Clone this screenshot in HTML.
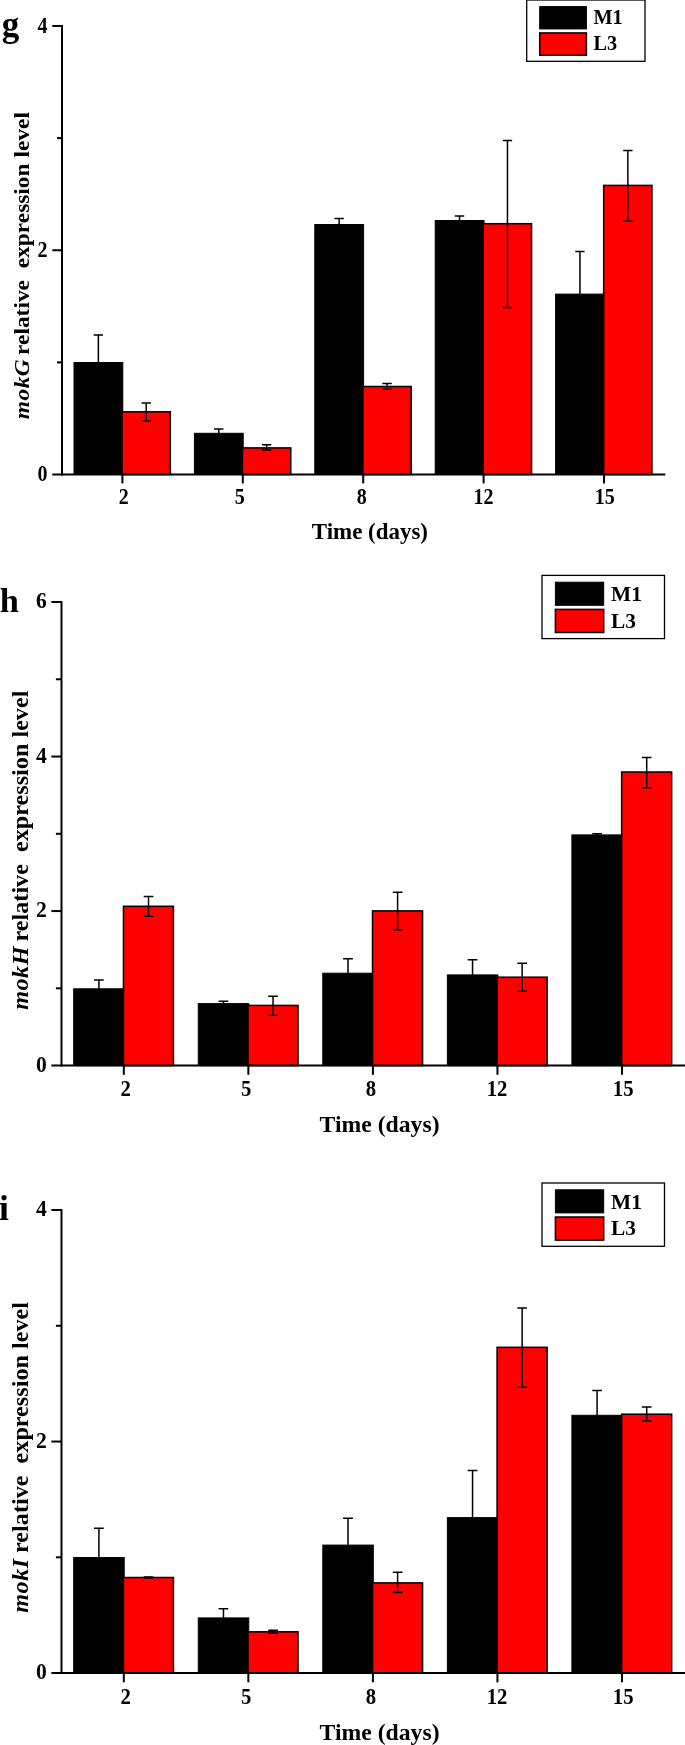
<!DOCTYPE html>
<html><head><meta charset="utf-8"><title>mok gene relative expression levels</title>
<style>
html,body{margin:0;padding:0;background:#fff;}
body{width:685px;height:1745px;overflow:hidden;}
svg{display:block;will-change:transform;}
svg text{font-family:"Liberation Serif",serif;font-weight:bold;fill:#000;}
.ax{stroke:#000;stroke-width:2;fill:none;shape-rendering:auto;}
.eb{stroke:#000;stroke-width:1.5;fill:none;}
.bk{fill:#000;stroke:#000;stroke-width:1;}
.rd{fill:#ff0000;stroke:#000;stroke-width:1.5;}
</style></head>
<body>
<svg width="685" height="1745" viewBox="0 0 685 1745">
<rect x="0" y="0" width="685" height="1745" fill="#ffffff"/>
<!-- chart g -->
<g id="chart-g">
<rect class="bk" x="74" y="362.5" width="48.8" height="112"/>
<rect class="rd" x="122.05" y="411.8" width="48.3" height="62.7"/>
<path class="eb" d="M98.35 363 V335.1 M93.66 335.1 H103.04"/>
<path class="eb" d="M146.25 403 V420.9 M141.56 403 H150.94 M141.56 420.9 H150.94"/>
<rect class="bk" x="194.4" y="433.3" width="48.8" height="41.2"/>
<rect class="rd" x="242.45" y="447.9" width="48.3" height="26.6"/>
<path class="eb" d="M218.75 433.8 V429 M214.06 429 H223.44"/>
<path class="eb" d="M266.65 444.7 V450 M261.96 444.7 H271.34 M261.96 450 H271.34"/>
<rect class="bk" x="314.8" y="224.5" width="48.8" height="250"/>
<rect class="rd" x="362.85" y="386.5" width="48.3" height="88"/>
<path class="eb" d="M339.15 225 V218.4 M334.46 218.4 H343.84"/>
<path class="eb" d="M387.05 383.6 V389.3 M382.36 383.6 H391.74 M382.36 389.3 H391.74"/>
<rect class="bk" x="435.2" y="220.5" width="48.8" height="254"/>
<rect class="rd" x="483.25" y="223.7" width="48.3" height="250.8"/>
<path class="eb" d="M459.55 221 V216.1 M454.86 216.1 H464.24"/>
<path class="eb" d="M507.45 140.6 V307.6 M502.76 140.6 H512.14 M502.76 307.6 H512.14"/>
<rect class="bk" x="555.6" y="294.1" width="48.8" height="180.4"/>
<rect class="rd" x="603.65" y="185.4" width="48.3" height="289.1"/>
<path class="eb" d="M579.95 294.6 V251.4 M575.26 251.4 H584.64"/>
<path class="eb" d="M627.85 150.5 V221 M623.16 150.5 H632.54 M623.16 221 H632.54"/>
<path class="ax" d="M62 25 V475.5"/>
<path class="ax" d="M52.3 474.5 H665.3"/>
<text transform="translate(47.4 481.1) scale(0.9 1)" font-size="22.26" text-anchor="end">0</text>
<path class="ax" d="M57 362.38 H62"/>
<path class="ax" d="M52.3 250.25 H62"/>
<text transform="translate(47.4 256.85) scale(0.9 1)" font-size="22.26" text-anchor="end">2</text>
<path class="ax" d="M57 138.12 H62"/>
<path class="ax" d="M52.3 26 H62"/>
<text transform="translate(47.4 32.6) scale(0.9 1)" font-size="22.26" text-anchor="end">4</text>
<path class="ax" d="M122.4 474.5 V483.41"/>
<text transform="translate(123.8 504.33) scale(0.9 1)" font-size="22.26" text-anchor="middle">2</text>
<path class="ax" d="M242.8 474.5 V483.41"/>
<text transform="translate(239.8 504.33) scale(0.9 1)" font-size="22.26" text-anchor="middle">5</text>
<path class="ax" d="M363.2 474.5 V483.41"/>
<text transform="translate(361.8 504.33) scale(0.9 1)" font-size="22.26" text-anchor="middle">8</text>
<path class="ax" d="M483.6 474.5 V483.41"/>
<text transform="translate(483.4 504.33) scale(0.9 1)" font-size="22.26" text-anchor="middle">12</text>
<path class="ax" d="M604 474.5 V483.41"/>
<text transform="translate(604.7 504.33) scale(0.9 1)" font-size="22.26" text-anchor="middle">15</text>
<text x="369.9" y="539.07" font-size="22.94" text-anchor="middle">Time (days)</text>
<text transform="translate(29.2 419.3) rotate(-90) scale(1.034 0.97)" font-size="22.65" xml:space="preserve"><tspan font-style="italic" letter-spacing="0.5">mok</tspan><tspan font-style="italic">G</tspan><tspan dx="-1.5"> relative  expression level</tspan></text>
<text x="1.7" y="35.9" font-size="35">g</text>
<rect x="526.7" y="0" width="118.3" height="61.3" fill="#fff" stroke="#000" stroke-width="1.3"/>
<rect class="bk" x="539.69" y="6.6" width="46.72" height="22.33"/>
<rect class="rd" x="539.69" y="32.93" width="46.72" height="22.33"/>
<text transform="translate(593.49 24.28) scale(0.96 1)" font-size="21.1">M1</text>
<text transform="translate(593.49 50.43) scale(0.96 1)" font-size="21.1">L3</text>
</g>
<!-- chart h -->
<g id="chart-h">
<rect class="bk" x="73.7" y="988.8" width="50.5" height="76.8"/>
<rect class="rd" x="123.45" y="906.3" width="50" height="159.3"/>
<path class="eb" d="M98.9 989.3 V979.9 M94.05 979.9 H103.75"/>
<path class="eb" d="M148.5 896.4 V916.2 M143.65 896.4 H153.35 M143.65 916.2 H153.35"/>
<rect class="bk" x="198.25" y="1003.6" width="50.5" height="62"/>
<rect class="rd" x="248" y="1005.4" width="50" height="60.2"/>
<path class="eb" d="M223.45 1004.1 V1001.2 M218.6 1001.2 H228.3"/>
<path class="eb" d="M273.05 996.2 V1015.2 M268.2 996.2 H277.9 M268.2 1015.2 H277.9"/>
<rect class="bk" x="322.8" y="973.2" width="50.5" height="92.4"/>
<rect class="rd" x="372.55" y="910.9" width="50" height="154.7"/>
<path class="eb" d="M348 973.7 V958.7 M343.15 958.7 H352.85"/>
<path class="eb" d="M397.6 892.3 V930 M392.75 892.3 H402.45 M392.75 930 H402.45"/>
<rect class="bk" x="447.35" y="974.9" width="50.5" height="90.7"/>
<rect class="rd" x="497.1" y="977.2" width="50" height="88.4"/>
<path class="eb" d="M472.55 975.4 V959.8 M467.7 959.8 H477.4"/>
<path class="eb" d="M522.15 963.2 V991.3 M517.3 963.2 H527 M517.3 991.3 H527"/>
<rect class="bk" x="571.9" y="834.9" width="50.5" height="230.7"/>
<rect class="rd" x="621.65" y="772" width="50" height="293.6"/>
<path class="eb" d="M597.1 835.4 V833.8 M592.25 833.8 H601.95"/>
<path class="eb" d="M646.7 757.4 V787.8 M641.85 757.4 H651.55 M641.85 787.8 H651.55"/>
<path class="ax" d="M61.5 601 V1066.6"/>
<path class="ax" d="M51.4 1065.6 H686"/>
<text transform="translate(46.8 1071.9) scale(0.9 1)" font-size="24" text-anchor="end">0</text>
<path class="ax" d="M55.9 988.33 H61.5"/>
<path class="ax" d="M51.4 911.07 H61.5"/>
<text transform="translate(46.8 917.37) scale(0.9 1)" font-size="24" text-anchor="end">2</text>
<path class="ax" d="M55.9 833.8 H61.5"/>
<path class="ax" d="M51.4 756.53 H61.5"/>
<text transform="translate(46.8 762.83) scale(0.9 1)" font-size="24" text-anchor="end">4</text>
<path class="ax" d="M55.9 679.27 H61.5"/>
<path class="ax" d="M51.4 602 H61.5"/>
<text transform="translate(46.8 608.3) scale(0.9 1)" font-size="24" text-anchor="end">6</text>
<path class="ax" d="M123.8 1065.6 V1074.8"/>
<text transform="translate(125.6 1096.4) scale(0.9 1)" font-size="23" text-anchor="middle">2</text>
<path class="ax" d="M248.35 1065.6 V1074.8"/>
<text transform="translate(246.15 1096.4) scale(0.9 1)" font-size="23" text-anchor="middle">5</text>
<path class="ax" d="M372.9 1065.6 V1074.8"/>
<text transform="translate(371 1096.4) scale(0.9 1)" font-size="23" text-anchor="middle">8</text>
<path class="ax" d="M497.45 1065.6 V1074.8"/>
<text transform="translate(497.05 1096.4) scale(0.9 1)" font-size="23" text-anchor="middle">12</text>
<path class="ax" d="M622 1065.6 V1074.8"/>
<text transform="translate(623.2 1096.4) scale(0.9 1)" font-size="23" text-anchor="middle">15</text>
<text x="379.6" y="1132.3" font-size="23.7" text-anchor="middle">Time (days)</text>
<text transform="translate(27.8 1009.8) rotate(-90) scale(1.034 0.97)" font-size="23.4" xml:space="preserve"><tspan font-style="italic" letter-spacing="0.5">mok</tspan><tspan font-style="italic">H</tspan><tspan dx="-1"> relative  expression level</tspan></text>
<text x="-0.2" y="611.9" font-size="34.4">h</text>
<rect x="542" y="575.4" width="122.5" height="63.2" fill="#fff" stroke="#000" stroke-width="1.3"/>
<rect class="bk" x="555.4" y="582.2" width="48.3" height="23.1"/>
<rect class="rd" x="555.4" y="609.4" width="48.3" height="23.1"/>
<text transform="translate(611 600.9) scale(0.98 1)" font-size="21.8">M1</text>
<text transform="translate(611 627.7) scale(0.98 1)" font-size="21.8">L3</text>
</g>
<!-- chart i -->
<g id="chart-i">
<rect class="bk" x="73.7" y="1557.5" width="50.5" height="115.6"/>
<rect class="rd" x="123.45" y="1577.5" width="50" height="95.6"/>
<path class="eb" d="M98.9 1558 V1528.2 M94.05 1528.2 H103.75"/>
<path class="eb" d="M148.5 1576.9 V1578.1 M143.65 1576.9 H153.35 M143.65 1578.1 H153.35"/>
<rect class="bk" x="198.25" y="1617.9" width="50.5" height="55.2"/>
<rect class="rd" x="248" y="1631.8" width="50" height="41.3"/>
<path class="eb" d="M223.45 1618.4 V1608.7 M218.6 1608.7 H228.3"/>
<path class="eb" d="M273.05 1630.3 V1633.3 M268.2 1630.3 H277.9 M268.2 1633.3 H277.9"/>
<rect class="bk" x="322.8" y="1545.1" width="50.5" height="128"/>
<rect class="rd" x="372.55" y="1582.9" width="50" height="90.2"/>
<path class="eb" d="M348 1545.6 V1518.2 M343.15 1518.2 H352.85"/>
<path class="eb" d="M397.6 1572.2 V1592.4 M392.75 1572.2 H402.45 M392.75 1592.4 H402.45"/>
<rect class="bk" x="447.35" y="1517.6" width="50.5" height="155.5"/>
<rect class="rd" x="497.1" y="1347.3" width="50" height="325.8"/>
<path class="eb" d="M472.55 1518.1 V1470.4 M467.7 1470.4 H477.4"/>
<path class="eb" d="M522.15 1308 V1387.2 M517.3 1308 H527 M517.3 1387.2 H527"/>
<rect class="bk" x="571.9" y="1415.3" width="50.5" height="257.8"/>
<rect class="rd" x="621.65" y="1414.2" width="50" height="258.9"/>
<path class="eb" d="M597.1 1415.8 V1390.6 M592.25 1390.6 H601.95"/>
<path class="eb" d="M646.7 1407 V1421 M641.85 1407 H651.55 M641.85 1421 H651.55"/>
<path class="ax" d="M61.5 1209 V1674.1"/>
<path class="ax" d="M51.4 1673.1 H686"/>
<text transform="translate(46.8 1679.4) scale(0.9 1)" font-size="24" text-anchor="end">0</text>
<path class="ax" d="M55.9 1557.32 H61.5"/>
<path class="ax" d="M51.4 1441.55 H61.5"/>
<text transform="translate(46.8 1447.85) scale(0.9 1)" font-size="24" text-anchor="end">2</text>
<path class="ax" d="M55.9 1325.78 H61.5"/>
<path class="ax" d="M51.4 1210 H61.5"/>
<text transform="translate(46.8 1216.3) scale(0.9 1)" font-size="24" text-anchor="end">4</text>
<path class="ax" d="M123.8 1673.1 V1682.3"/>
<text transform="translate(125.6 1703.9) scale(0.9 1)" font-size="23" text-anchor="middle">2</text>
<path class="ax" d="M248.35 1673.1 V1682.3"/>
<text transform="translate(246.15 1703.9) scale(0.9 1)" font-size="23" text-anchor="middle">5</text>
<path class="ax" d="M372.9 1673.1 V1682.3"/>
<text transform="translate(371 1703.9) scale(0.9 1)" font-size="23" text-anchor="middle">8</text>
<path class="ax" d="M497.45 1673.1 V1682.3"/>
<text transform="translate(497.05 1703.9) scale(0.9 1)" font-size="23" text-anchor="middle">12</text>
<path class="ax" d="M622 1673.1 V1682.3"/>
<text transform="translate(623.2 1703.9) scale(0.9 1)" font-size="23" text-anchor="middle">15</text>
<text x="379.6" y="1739.8" font-size="23.7" text-anchor="middle">Time (days)</text>
<text transform="translate(27.8 1612.7) rotate(-90) scale(1.034 0.97)" font-size="23.4" xml:space="preserve"><tspan font-style="italic" letter-spacing="0.5">mok</tspan><tspan font-style="italic">I</tspan><tspan dx="-0.2"> relative  expression level</tspan></text>
<text x="-1" y="1219.9" font-size="35.6">i</text>
<rect x="542" y="1183" width="122.5" height="63.3" fill="#fff" stroke="#000" stroke-width="1.3"/>
<rect class="bk" x="555.4" y="1189.8" width="48.3" height="23.1"/>
<rect class="rd" x="555.4" y="1217" width="48.3" height="23.1"/>
<text transform="translate(611 1208.5) scale(0.98 1)" font-size="21.8">M1</text>
<text transform="translate(611 1235.3) scale(0.98 1)" font-size="21.8">L3</text>
</g>
</svg>
</body></html>
